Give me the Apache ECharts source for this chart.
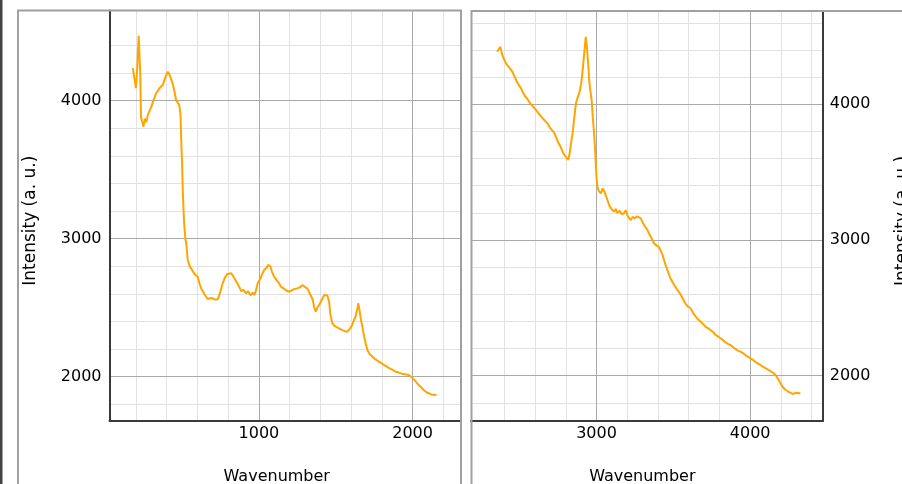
<!DOCTYPE html>
<html><head><meta charset="utf-8">
<script src="https://cdn.jsdelivr.net/npm/echarts@6/dist/echarts.min.js"></script>
<style>html,body{margin:0;padding:0;background:#fff;overflow:hidden}#c{width:902px;height:484px}</style>
</head><body><div id="c"></div>
<script>
// ---- data ----
const leftWavenumber = [180,192,200,207,213,218,224,228,233,240,249,258,268,278,288,298,310,320,331,342,353,364,375,385,395,407,418,428,440,452,461,470,482,490,494,500,505,510,515,522,528,537,550,562,572,585,602,615,625,634,650,665,677,695,710,722,732,745,755,764,780,795,807,820,832,845,858,872,885,900,916,930,945,960,970,980,992,1005,1020,1034,1050,1060,1067,1075,1085,1099,1115,1130,1143,1160,1178,1197,1210,1230,1250,1270,1284,1300,1315,1328,1338,1350,1360,1370,1380,1393,1403,1415,1425,1435,1445,1457,1465,1478,1490,1505,1521,1540,1560,1576,1590,1605,1619,1630,1640,1647,1655,1663,1673,1685,1695,1706,1720,1735,1749,1765,1780,1795,1814,1830,1850,1870,1890,1910,1930,1950,1976,1990,2005,2018,2030,2045,2060,2075,2095,2110,2125,2140,2156];
const leftIntensity = [4237,4237,4092,4207,4200,4471,4460,4200,3880,3850,3812,3870,3845,3900,3910,3950,3990,4020,4053,4040,4090,4080,4114,4150,4180,4210,4190,4160,4120,4060,4005,3990,3969,3900,3739,3550,3341,3200,3087,3000,2960,2846,2800,2780,2760,2740,2725,2670,2640,2628,2590,2565,2556,2570,2560,2565,2561,2600,2640,2677,2720,2745,2749,2750,2730,2720,2680,2652,2620,2630,2604,2620,2590,2610,2592,2620,2677,2700,2740,2773,2790,2810,2822,2800,2760,2725,2700,2680,2652,2640,2625,2616,2630,2635,2640,2650,2665,2650,2640,2610,2604,2560,2500,2471,2500,2520,2543,2570,2590,2604,2590,2543,2450,2387,2370,2360,2351,2340,2330,2326,2345,2370,2411,2440,2490,2532,2480,2420,2364,2290,2240,2194,2165,2150,2134,2120,2110,2100,2085,2075,2060,2050,2036,2030,2022,2018,2012,2000,1985,1968,1952,1935,1918,1900,1884,1878,1870,1870,1867];
const rightWavenumber = [2353,2365,2374,2385,2395,2411,2425,2440,2452,2465,2480,2495,2508,2519,2535,2550,2560,2573,2590,2605,2615,2627,2640,2655,2668,2681,2695,2710,2725,2736,2750,2765,2779,2795,2805,2816,2825,2835,2844,2855,2866,2877,2887,2895,2903,2912,2920,2925,2930,2936,2942,2947,2952,2960,2968,2976,2984,2990,2995,3000,3006,3015,3028,3040,3050,3060,3071,3085,3100,3114,3125,3135,3150,3165,3179,3190,3200,3210,3223,3235,3250,3265,3275,3288,3300,3315,3331,3345,3360,3374,3390,3405,3418,3430,3445,3461,3480,3500,3526,3547,3565,3580,3595,3612,3630,3650,3665,3677,3695,3710,3725,3742,3760,3775,3790,3807,3825,3840,3855,3872,3890,3905,3920,3937,3955,3970,3985,4002,4020,4035,4050,4067,4085,4100,4115,4132,4150,4165,4175,4190,4208,4225,4245,4262,4280,4295,4305,4318,4327];
const rightIntensity = [4388,4400,4425,4370,4340,4302,4280,4260,4240,4228,4170,4140,4120,4093,4060,4040,4020,4007,3980,3960,3945,3934,3910,3890,3880,3860,3830,3810,3790,3761,3720,3690,3651,3620,3610,3590,3640,3720,3786,3900,4007,4050,4081,4120,4179,4280,4376,4440,4498,4440,4351,4280,4179,4100,4032,3900,3786,3680,3565,3460,3393,3360,3344,3380,3360,3368,3295,3250,3225,3209,3230,3200,3215,3190,3197,3220,3185,3165,3147,3170,3160,3175,3170,3160,3130,3100,3074,3040,3010,2976,2960,2950,2940,2890,2830,2779,2720,2680,2632,2600,2560,2530,2510,2497,2460,2430,2410,2398,2380,2360,2350,2337,2320,2300,2290,2276,2260,2245,2235,2226,2210,2195,2185,2177,2165,2150,2140,2128,2115,2100,2090,2079,2065,2055,2045,2033,2020,2005,1996,1960,1922,1900,1885,1873,1865,1875,1868,1870,1870];
const leftXRange = [28, 2315];
const rightXRange = [2183, 4472];
const leftYRange = [1679, 4654];
const rightYRange = [1666, 4688];
const leftXTickLabels = [1000, 2000];
const rightXTickLabels = [3000, 4000];
const yTickLabels = [2000, 3000, 4000];
const leftXMinor = [200,400,600,800,1200,1400,1600,1800,2200];
const rightXMinor = [2400,2600,2800,3200,3400,3600,3800,4200,4400];
const leftYMinor = [1800,2200,2400,2600,2800,3200,3400,3600,3800,4200,4400];
const rightYMinor = [1800,2200,2400,2600,2800,3200,3400,3600,3800,4200,4400,4600];
const xTitle = 'Wavenumber';
const yTitle = 'Intensity (a. u.)';

// ---- styling ----
const FONT = 'DejaVu Sans';
const LINE = '#ffa500';
const MINOR = '#e2e2e2';
const MAJOR = '#a9a9a9';
const AXIS = '#3a3a3a';

function zip(xs, ys) { return xs.map((x, i) => [x, ys[i]]); }
function gridMarks(xMinor, xMajor, yMinor, yMajor) {
  const d = [];
  xMinor.forEach(v => d.push({xAxis: v, lineStyle: {color: MINOR, width: 1, type: 'solid'}}));
  yMinor.forEach(v => d.push({yAxis: v, lineStyle: {color: MINOR, width: 1, type: 'solid'}}));
  xMajor.forEach(v => d.push({xAxis: v, lineStyle: {color: MAJOR, width: 1, type: 'solid'}}));
  yMajor.forEach(v => d.push({yAxis: v, lineStyle: {color: MAJOR, width: 1, type: 'solid'}}));
  return {silent: true, symbol: ['none', 'none'], z: 1, label: {show: false}, emphasis: {disabled: true}, animation: false, data: d};
}
const labelStyle = {fontFamily: FONT, fontSize: 16, color: '#000'};
const plain = v => String(v);

const chart = echarts.init(document.getElementById('c'), null, {renderer: 'canvas'});
chart.setOption({
  animation: false,
  backgroundColor: '#fff',
  grid: [
    {left: 109.5, top: 10.5, width: 351.5, height: 410.5, containLabel: false, outerBoundsMode: 'none'},
    {left: 471, top: 11, width: 351.7, height: 410, containLabel: false, outerBoundsMode: 'none'}
  ],
  xAxis: [
    {gridIndex: 0, type: 'value', min: leftXRange[0], max: leftXRange[1], z: 2,
     axisLine: {show: true, onZero: false, lineStyle: {color: AXIS, width: 2}},
     axisTick: {show: false}, splitLine: {show: false},
     axisLabel: Object.assign({customValues: leftXTickLabels, margin: 5, formatter: plain}, labelStyle),
     name: xTitle, nameLocation: 'middle', nameGap: 48,
     nameTextStyle: Object.assign({padding: [0, 17, 0, 0]}, labelStyle)},
    {gridIndex: 1, type: 'value', min: rightXRange[0], max: rightXRange[1], z: 2,
     axisLine: {show: true, onZero: false, lineStyle: {color: AXIS, width: 2}},
     axisTick: {show: false}, splitLine: {show: false},
     axisLabel: Object.assign({customValues: rightXTickLabels, margin: 5, formatter: plain}, labelStyle),
     name: xTitle, nameLocation: 'middle', nameGap: 48,
     nameTextStyle: Object.assign({padding: [0, 9, 0, 0]}, labelStyle)}
  ],
  yAxis: [
    {gridIndex: 0, type: 'value', min: leftYRange[0], max: leftYRange[1], z: 2,
     axisLine: {show: true, onZero: false, lineStyle: {color: AXIS, width: 2}},
     axisTick: {show: false}, splitLine: {show: false},
     axisLabel: Object.assign({customValues: yTickLabels, margin: 8, formatter: plain}, labelStyle),
     name: yTitle, nameLocation: 'middle', nameRotate: 90, nameGap: 70,
     nameTextStyle: Object.assign({}, labelStyle, {fontSize: 17, padding: [0, 10, 0, 0]})},
    {gridIndex: 1, type: 'value', position: 'right', min: rightYRange[0], max: rightYRange[1], z: 2,
     axisLine: {show: true, onZero: false, lineStyle: {color: AXIS, width: 2}},
     axisTick: {show: false}, splitLine: {show: false},
     axisLabel: Object.assign({customValues: yTickLabels, margin: 7, formatter: plain}, labelStyle),
     name: yTitle, nameLocation: 'middle', nameRotate: 90, nameGap: 71,
     nameTextStyle: Object.assign({}, labelStyle, {fontSize: 17, padding: [0, 10, 0, 0]})}
  ],
  series: [
    {type: 'line', xAxisIndex: 0, yAxisIndex: 0, data: zip(leftWavenumber, leftIntensity),
     showSymbol: false, symbol: 'none', z: 3, lineStyle: {color: LINE, width: 2}, itemStyle: {color: LINE},
     markLine: gridMarks(leftXMinor, leftXTickLabels, leftYMinor, yTickLabels)},
    {type: 'line', xAxisIndex: 1, yAxisIndex: 1, data: zip(rightWavenumber, rightIntensity),
     showSymbol: false, symbol: 'none', z: 3, lineStyle: {color: LINE, width: 2}, itemStyle: {color: LINE},
     markLine: gridMarks(rightXMinor, rightXTickLabels, rightYMinor, yTickLabels)}
  ],
  graphic: [
    {type: 'rect', silent: true, shape: {x: 0, y: 0, width: 2.5, height: 484}, style: {fill: '#444'}},
    {type: 'polyline', silent: true, z: 10, shape: {points: [[18, 490], [18, 10.5], [461, 10.5], [461, 490]]},
     style: {stroke: '#a0a0a0', lineWidth: 2, fill: null}},
    {type: 'polyline', silent: true, z: 10, shape: {points: [[471.5, 490], [471.5, 11], [910, 11]]},
     style: {stroke: '#a0a0a0', lineWidth: 2, fill: null}}
  ]
});
</script>
</body></html>
